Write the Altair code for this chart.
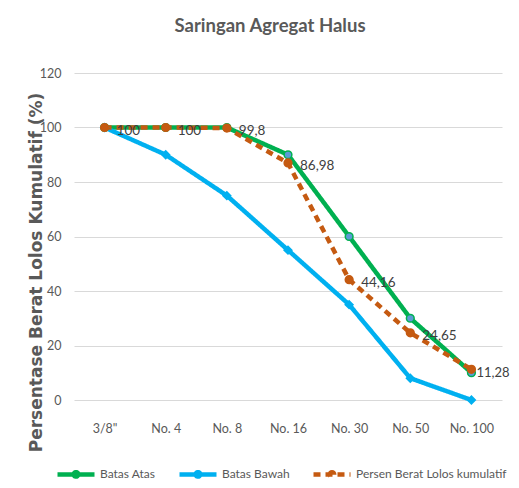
import altair as alt
import pandas as pd

categories = ['3/8"', "No. 4", "No. 8", "No. 16", "No. 30", "No. 50", "No. 100"]
batas_atas = [100, 100, 100, 90, 60, 30, 10]
batas_bawah = [100, 90, 75, 55, 35, 8, 0]
persen = [100, 100, 99.8, 86.98, 44.16, 24.65, 11.28]
series_names = ["Batas Atas", "Batas Bawah", "Persen Berat Lolos kumulatif"]
line_colors = ["#00b050", "#00b0f0", "#c55a11"]
marker_fill = ["#5b9bd5", "#00b0f0", "#c55a11"]
marker_shape = ["circle", "diamond", "circle"]

rows = []
for name, vals in zip(series_names, [batas_atas, batas_bawah, persen]):
    for i, (c, v) in enumerate(zip(categories, vals)):
        rows.append({"series": name, "cat": c, "order": i, "value": v,
                     "label": (f"{v:g}".replace(".", ","))})
df = pd.DataFrame(rows)

FONT = "Lato"

x = alt.X("cat:N", sort=categories, title=None,
          scale=alt.Scale(paddingInner=0, paddingOuter=0.5),
          axis=alt.Axis(labelAngle=0, labelPadding=22, ticks=False, domain=False,
                        labelFont=FONT, labelFontSize=12.5, labelColor="#595959"))
y = alt.Y("value:Q", title="Persentase Berat Lolos Kumulatif (%)",
          scale=alt.Scale(domain=[0, 120], nice=False),
          axis=alt.Axis(values=[0, 20, 40, 60, 80, 100, 120], ticks=False, domain=False,
                        labelPadding=13, labelFont=FONT, labelFontSize=12.5,
                        labelColor="#595959", gridColor="#d9d9d9", gridWidth=1,
                        titleFont="DejaVu Sans", titleFontSize=17,
                        titleFontWeight="bold", titleColor="#595959",
                        titleX=-38, titleY=199, titleAngle=270, titleBaseline="middle"))

legend_symbol = "M-1,0L1,0M-0.12,0A0.12,0.12,0,1,1,0.12,0A0.12,0.12,0,1,1,-0.12,0"

lines = alt.Chart(df).mark_line(strokeWidth=4.5).encode(
    x=x, y=y, order="order:Q",
    color=alt.Color("series:N", sort=series_names,
                    scale=alt.Scale(domain=series_names, range=line_colors),
                    legend=alt.Legend(title=None, orient="none", direction="horizontal",
                                      legendX=-19, legendY=380,
                                      symbolType=legend_symbol, symbolSize=1369,
                                      symbolStrokeWidth=4.5, columnPadding=14,
                                      labelFont=FONT, labelFontSize=12,
                                      labelColor="#595959", labelOffset=3)),
    strokeDash=alt.StrokeDash("series:N", sort=series_names,
                              scale=alt.Scale(domain=series_names,
                                              range=[[1, 0], [1, 0], [7, 5]])),
)

point_layers = []
for name, fc, sc, shp in zip(series_names, marker_fill, line_colors, marker_shape):
    point_layers.append(
        alt.Chart(df[df["series"] == name]).mark_point(
            filled=True, size=60, strokeWidth=1.5, opacity=1,
            fill=fc, stroke=sc, shape=shp
        ).encode(x=x, y=y)
    )

lab_df = df[df["series"] == series_names[2]]
labels_main = alt.Chart(lab_df[lab_df["order"] < 6]).mark_text(
    align="left", baseline="middle", dx=12, dy=3, font=FONT, fontSize=13.5, color="#404040"
).encode(x=x, y=y, text="label:N")
labels_last = alt.Chart(lab_df[lab_df["order"] == 6]).mark_text(
    align="left", baseline="middle", dx=5, dy=4, font=FONT, fontSize=13, color="#404040"
).encode(x=x, y=y, text="label:N")

chart = alt.layer(lines, *point_layers, labels_main, labels_last).properties(
    width=428, height=327,
    title=alt.Title("Saringan Agregat Halus", font=FONT, fontSize=18.5, fontWeight="bold",
                    color="#595959", anchor="middle", dx=-18, offset=32),
    autosize=alt.AutoSizeParams(type="none"),
    padding={"left": 66, "top": 65, "right": 9, "bottom": 80},
).configure_view(stroke=None)

chart.save("out.html", embed_options={"renderer": "svg", "actions": False})
